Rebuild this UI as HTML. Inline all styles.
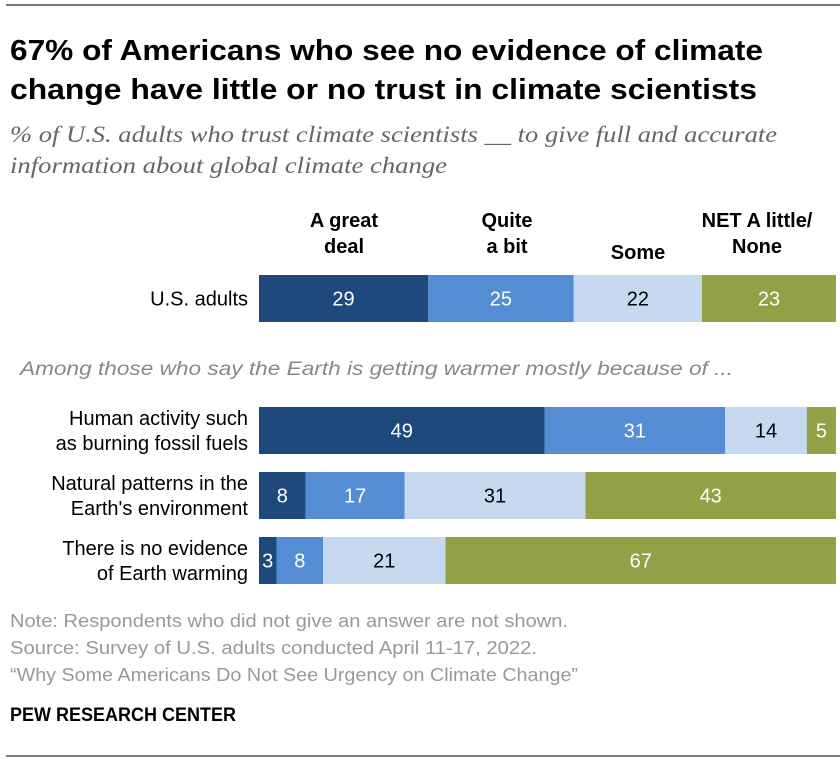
<!DOCTYPE html>
<html><head><meta charset="utf-8"><style>
body{margin:0;background:#fff}
svg{display:block;font-family:"Liberation Sans Narrow","Liberation Sans",sans-serif}
</style></head><body>
<svg id="chart" width="840" height="762" viewBox="0 0 840 762">
<line x1="6" y1="5" x2="840" y2="5" stroke="#777" stroke-width="2"/>
<text x="10" y="60" font-size="29" font-weight="bold" fill="#000" textLength="753" lengthAdjust="spacingAndGlyphs">67% of Americans who see no evidence of climate</text>
<text x="10" y="99" font-size="29" font-weight="bold" fill="#000" textLength="747" lengthAdjust="spacingAndGlyphs">change have little or no trust in climate scientists</text>
<text x="10" y="142" font-size="23" font-style="italic" fill="#666" font-family="Liberation Serif,serif" textLength="767" lengthAdjust="spacingAndGlyphs">% of U.S. adults who trust climate scientists __ to give full and accurate</text>
<text x="10" y="173" font-size="23" font-style="italic" fill="#666" font-family="Liberation Serif,serif" textLength="437" lengthAdjust="spacingAndGlyphs">information about global climate change</text>
<g font-size="20" font-weight="bold" text-anchor="middle" fill="#000">
<text x="344" y="227"><tspan x="344">A great</tspan><tspan x="344" dy="26">deal</tspan></text>
<text x="507" y="227"><tspan x="507">Quite</tspan><tspan x="507" dy="26">a bit</tspan></text>
<text x="638" y="259">Some</text>
<text x="757" y="227"><tspan x="757">NET A little/</tspan><tspan x="757" dy="26">None</tspan></text>
</g>
<text x="20" y="375" font-size="19" font-style="italic" fill="#888" font-family="Liberation Sans,sans-serif" textLength="713" lengthAdjust="spacingAndGlyphs">Among those who say the Earth is getting warmer mostly because of ...</text>
<g id="bars"></g>
<g font-size="18" fill="#999" font-family="Liberation Sans,sans-serif">
<text x="10" y="627" textLength="558" lengthAdjust="spacingAndGlyphs">Note: Respondents who did not give an answer are not shown.</text>
<text x="10" y="654" textLength="527" lengthAdjust="spacingAndGlyphs">Source: Survey of U.S. adults conducted April 11-17, 2022.</text>
<text x="10" y="681" textLength="568" lengthAdjust="spacingAndGlyphs">“Why Some Americans Do Not See Urgency on Climate Change”</text>
</g>
<text x="10" y="721" font-size="19" font-weight="bold" fill="#000" textLength="226" lengthAdjust="spacingAndGlyphs">PEW RESEARCH CENTER</text>
<line x1="6" y1="756" x2="840" y2="756" stroke="#555" stroke-width="1.5"/>
</svg>
<script>
const categories = [["U.S. adults"],["Human activity such","as burning fossil fuels"],["Natural patterns in the","Earth's environment"],["There is no evidence","of Earth warming"]];
const greatDeal = [29,49,8,3];
const quiteABit = [25,31,17,8];
const some = [22,14,31,21];
const littleNone = [23,5,43,67];
const rowTops = [275,407,472,537];
const NS='http://www.w3.org/2000/svg';
const x0=259, unit=577/99, barH=47;
const xScale=v=>v*unit;
const colors=['#1f497d','#548dd4','#c6d9f1','#93a045'];
const textColors=['#fff','#fff','#000','#fff'];
const g=document.getElementById('bars');
const series=[greatDeal,quiteABit,some,littleNone];
const segNames=['great-deal','quite-a-bit','some','little-none'];
categories.forEach((lines,i)=>{
  const y=rowTops[i];
  const lab=document.createElementNS(NS,'text');
  
  
  lab.setAttribute('text-anchor','end');lab.setAttribute('font-size','20');
  const n=lines.length;
  lines.forEach((l,k)=>{const t=document.createElementNS(NS,'tspan');t.setAttribute('x',248);
    t.setAttribute('y',y+barH/2+7+(k-(n-1)/2)*25);t.textContent=l;lab.appendChild(t);});
  g.appendChild(lab);
  let cx=x0;
  series.forEach((s,j)=>{
    const w=xScale(s[i]);
    const r=document.createElementNS(NS,'rect');
    
    
    r.setAttribute('x',cx);r.setAttribute('y',y);r.setAttribute('width',w);r.setAttribute('height',barH);
    r.setAttribute('fill',colors[j]);g.appendChild(r);
    const t=document.createElementNS(NS,'text');
    
    
    t.setAttribute('x',cx+w/2);t.setAttribute('y',y+barH/2+7);t.setAttribute('text-anchor','middle');
    t.setAttribute('font-size','20');t.setAttribute('fill',textColors[j]);t.textContent=s[i];g.appendChild(t);
    cx+=w;
  });
});
</script>
</body></html>
